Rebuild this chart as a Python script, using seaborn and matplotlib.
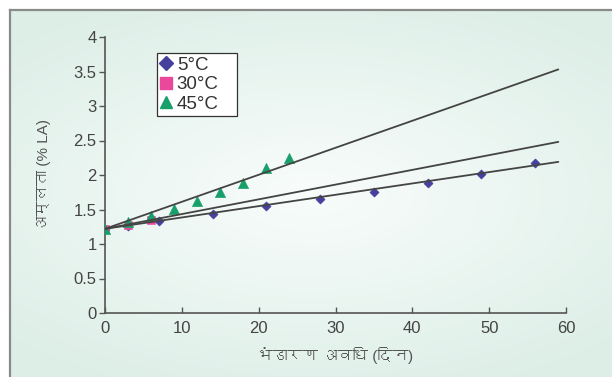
import numpy as np
import pandas as pd
import matplotlib
matplotlib.use("Agg")
import matplotlib.pyplot as plt
import seaborn as sns
from matplotlib import font_manager
from matplotlib.ft2font import FT2Font
from matplotlib.lines import Line2D

# data
days_5 = [0, 3, 7, 14, 21, 28, 35, 42, 49, 56]
acid_5 = [1.22, 1.26, 1.33, 1.44, 1.55, 1.65, 1.76, 1.89, 2.02, 2.18]
days_30 = [0, 3, 6]
acid_30 = [1.22, 1.27, 1.35]
days_45 = [0, 3, 6, 9, 12, 15, 18, 21, 24]
acid_45 = [1.22, 1.32, 1.41, 1.51, 1.63, 1.76, 1.89, 2.10, 2.25]

trend_days = [0, 59]
trend_5 = [1.22, 2.19]
trend_30 = [1.22, 2.48]
trend_45 = [1.22, 3.53]

labels = ["5°C", "30°C", "45°C"]
colors = ["#45409c", "#e9489b", "#17a06a"]
markers = ["D", "s", "^"]

xlabel = "भंडारण अवधि (दिन)"
ylabel = "अम्लता (% LA)"


def find_devanagari_font():
    # look for any installed font that has the Devanagari letter A
    for f in font_manager.fontManager.ttflist:
        try:
            if 0x0905 in FT2Font(f.fname).get_charmap():
                return f.name
        except Exception:
            continue
    return None


sns.set_theme(style="white")
deva = find_devanagari_font()
fam = ["Liberation Sans"] + ([deva] if deva else []) + ["DejaVu Sans"]
plt.rcParams["font.family"] = fam

fig = plt.figure(figsize=(6.12, 3.77), dpi=100)
fig.patch.set_facecolor("white")

# soft mint gradient panel behind the chart
bg = fig.add_axes([10 / 612, 0, 1 - 10 / 612, 1 - 10 / 377])
yy, xx = np.mgrid[-1:1:200j, -1:1:300j]
r = np.clip(np.sqrt((xx * 0.9) ** 2 + (yy * 1.1) ** 2), 0, 1.3)
c0 = np.array([0.975, 0.99, 0.985])
c1 = np.array([0.865, 0.935, 0.905])
img = c0 + (c1 - c0) * (r / 1.3)[..., None]
bg.imshow(img, aspect="auto", extent=[0, 1, 0, 1])
bg.set_xlim(0, 1)
bg.set_ylim(0, 1)
bg.set_xticks([])
bg.set_yticks([])
for s in ["top", "left"]:
    bg.spines[s].set_color("#8a8a8a")
    bg.spines[s].set_linewidth(1.6)
for s in ["right", "bottom"]:
    bg.spines[s].set_visible(False)

ax = fig.add_axes([105 / 612, 1 - 313 / 377, 461 / 612, 276 / 377])
ax.set_facecolor("none")

series = [(days_5, acid_5), (days_30, acid_30), (days_45, acid_45)]
for (d, a), lab, col, mk in zip(series, labels, colors, markers):
    sz = {"D": 22, "s": 34, "^": 55}[mk]
    sns.scatterplot(x=d, y=a, ax=ax, color=col, marker=mk, s=sz,
                    edgecolor=col, linewidth=0.4, zorder=3, legend=False)

trend = pd.DataFrame({"day": trend_days * 3,
                      "acid": trend_5 + trend_30 + trend_45,
                      "temp": [l for l in labels for _ in trend_days]})
sns.lineplot(data=trend, x="day", y="acid", units="temp", estimator=None,
             color="#444444", linewidth=1.3, ax=ax, zorder=4)

ax.set_xlim(0, 60)
ax.set_ylim(0, 4)
ax.set_xticks(range(0, 61, 10))
ax.set_yticks([0, 0.5, 1, 1.5, 2, 2.5, 3, 3.5, 4])
ax.set_yticklabels(["0", "0.5", "1", "1.5", "2", "2.5", "3", "3.5", "4"])
for s in ["top", "right"]:
    ax.spines[s].set_visible(False)
for s in ["left", "bottom"]:
    ax.spines[s].set_color("#555555")
    ax.spines[s].set_linewidth(1.2)
ax.tick_params(axis="y", direction="out", length=4, width=1, color="#555555",
               labelsize=12, labelcolor="#444444", pad=2, left=True)
ax.tick_params(axis="x", direction="in", length=4, width=1, color="#555555",
               labelsize=12, labelcolor="#444444", pad=6, bottom=True)

ax.set_xlabel(xlabel, fontsize=11, color="#555555", labelpad=8)
ax.set_ylabel(ylabel, fontsize=11, color="#555555", labelpad=16)

handles = [Line2D([], [], linestyle="none", marker=mk, color=col,
                  markersize={"D": 7, "s": 8, "^": 9}[mk])
           for col, mk in zip(colors, markers)]
leg_h = 64 / 276
leg = ax.legend(handles, labels, loc="upper left",
                bbox_to_anchor=(0.113, 0.942 - leg_h, 80 / 461, leg_h),
                mode="expand", frameon=True, fancybox=False, fontsize=13.5,
                handlelength=0.6, handletextpad=0.25, borderpad=0.2,
                labelspacing=0.12, borderaxespad=0)
leg.get_frame().set_edgecolor("#333333")
leg.get_frame().set_linewidth(0.9)
leg.get_frame().set_facecolor("white")
leg.get_frame().set_alpha(1)
for t in leg.get_texts():
    t.set_color("#333333")

fig.savefig("out.png", dpi=100)
